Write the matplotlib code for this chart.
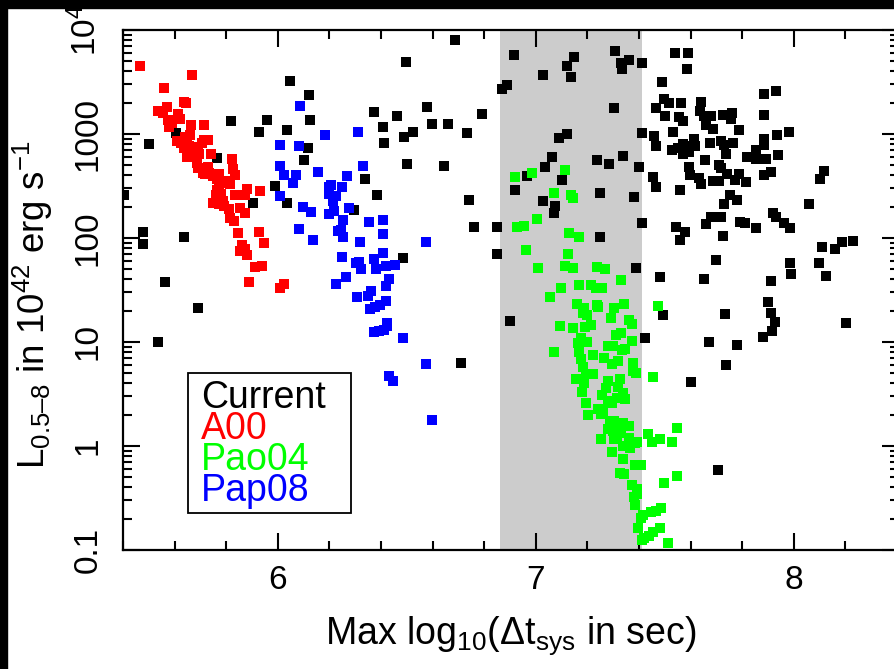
import numpy as np
import matplotlib
matplotlib.use("Agg")
import matplotlib.pyplot as plt
from matplotlib.patches import Rectangle
from matplotlib.ticker import MultipleLocator, LogLocator, NullFormatter

plt.rcParams['font.family'] = ['Liberation Sans', 'DejaVu Sans']
plt.rcParams['mathtext.fontset'] = 'custom'
plt.rcParams['mathtext.rm'] = 'Liberation Sans'
plt.rcParams['mathtext.it'] = 'Liberation Sans:italic'
plt.rcParams['mathtext.default'] = 'regular'

# x = max log10(dt_sys / s), y = log10(L_0.5-8 / 1e42 erg/s)
cur_x = [6.048, 6.121, 6.373, 5.819, 5.959, 6.125, 5.928, 6.036, 5.606, 6.407,
         5.501, 6.117, 6.411, 5.765, 6.102, 6.338, 5.990, 6.385, 5.403, 5.902,
         6.036, 6.296, 5.478, 5.478, 5.637, 5.563, 5.691, 5.536, 6.486, 6.497,
         6.687, 6.916, 7.148, 7.121, 7.307, 7.362, 7.331, 7.334, 7.413, 7.028,
         7.137, 6.889, 6.869, 6.579, 6.792, 6.462, 7.303, 6.598, 6.660, 6.524,
         6.490, 6.734, 7.121, 7.090, 7.413, 6.501, 6.645, 7.061, 7.036, 7.238,
         7.284, 7.338, 7.399, 6.966, 7.102, 6.920, 7.028, 7.075, 7.071, 7.249,
         7.382, 6.741, 6.761, 6.850, 7.413, 7.249, 6.850, 7.390, 7.540, 7.590,
         7.586, 7.490, 7.885, 7.931, 7.497, 7.517, 7.563, 7.641, 7.466, 7.501,
         7.555, 7.569, 7.637, 7.652, 7.679, 7.726, 7.761, 7.755, 7.885, 7.660,
         7.687, 7.788, 7.459, 7.532, 7.614, 7.466, 7.571, 7.590, 7.617, 7.552,
         7.526, 7.569, 7.594, 7.676, 7.717, 7.728, 7.765, 7.885, 7.885, 7.935,
         7.982, 7.738, 7.656, 7.819, 7.855, 7.854, 7.893, 7.939, 7.712, 7.716,
         7.594, 7.598, 7.633, 7.641, 7.455, 7.687, 7.710, 7.741, 7.786, 7.774,
         7.814, 7.885, 7.912, 8.116, 8.102, 7.466, 7.559, 7.753, 7.780, 7.730,
         8.058, 7.678, 7.660, 7.717, 7.792, 7.810, 7.854, 7.920, 7.931, 7.962,
         7.986, 7.544, 7.578, 7.559, 7.726, 8.110, 8.160, 8.187, 8.230, 7.699,
         7.986, 8.098, 7.990, 8.125, 7.482, 7.652, 7.912, 7.900, 7.493, 7.734,
         7.912, 7.928, 8.203, 7.916, 7.881, 7.424, 7.672, 7.780, 7.738, 7.602,
         7.707, 6.900, 6.710]
cur_logL = [3.510, 3.378, 3.214, 3.128, 3.137, 3.137, 3.022, 3.041, 3.010, 3.067,
            2.904, 2.868, 2.916, 2.772, 2.753, 2.570, 2.503, 2.416, 2.416, 2.339,
            2.337, 2.272, 2.061, 1.945, 2.013, 1.580, 1.330, 1.003, 1.811, 3.695,
            3.904, 3.763, 3.743, 3.657, 3.801, 3.714, 3.680, 3.628, 3.678, 3.570,
            3.551, 3.474, 3.436, 3.263, 3.195, 3.176, 3.253, 3.099, 3.099, 3.022,
            2.974, 3.013, 3.003, 2.964, 3.013, 2.714, 2.695, 2.782, 2.686, 2.753,
            2.714, 2.791, 2.686, 2.599, 2.561, 2.464, 2.359, 2.311, 2.243, 2.436,
            2.397, 2.368, 2.109, 2.109, 2.147, 2.013, 1.849, 1.714, 3.782, 3.782,
            3.628, 3.503, 3.382, 3.416, 3.339, 3.298, 3.301, 3.311, 3.253, 3.176,
            3.163, 3.125, 3.224, 3.173, 3.173, 3.186, 3.199, 3.144, 3.186, 3.089,
            3.051, 3.041, 2.981, 3.016, 2.955, 2.888, 2.901, 2.885, 2.885, 2.863,
            2.843, 2.805, 2.830, 2.916, 2.933, 2.894, 2.916, 2.949, 2.894, 2.990,
            3.022, 2.811, 2.753, 2.776, 2.843, 2.757, 2.763, 2.801, 2.702, 2.676,
            2.683, 2.603, 2.580, 2.519, 2.590, 2.548, 2.548, 2.618, 2.612, 2.555,
            2.541, 2.606, 2.638, 2.644, 2.570, 2.493, 2.464, 2.411, 2.365, 2.330,
            2.330, 2.205, 2.138, 2.205, 2.157, 2.147, 2.099, 2.243, 2.202, 2.147,
            2.099, 2.109, 2.061, 1.984, 2.022, 1.916, 1.897, 1.964, 1.974, 1.791,
            1.763, 1.763, 1.657, 1.635, 1.628, 1.609, 1.589, 1.385, 1.260, 1.269,
            1.279, 1.192, 1.183, 1.106, 1.048, 1.038, 1.000, 0.971, 0.779, 0.615,
            -0.231, 1.202, 0.798]

a00_x = [5.466, 5.668, 5.559, 5.571, 5.636, 5.646, 5.535, 5.554, 5.614, 5.576,
         5.619, 5.590, 5.580, 5.664, 5.714, 5.658, 5.641, 5.610, 5.625, 5.648,
         5.713, 5.729, 5.707, 5.638, 5.655, 5.690, 5.691, 5.648, 5.671, 5.694,
         5.741, 5.823, 5.686, 5.690, 5.729, 5.826, 5.709, 5.733, 5.716, 5.748,
         5.774, 5.765, 5.834, 5.787, 5.806, 5.815, 5.771, 5.765, 5.881, 5.931,
         5.834, 5.872, 5.761, 5.778, 5.761, 5.787, 5.748, 5.774, 5.793, 5.809,
         5.854, 5.873, 5.813, 5.832, 5.846, 5.928, 5.947, 5.862, 5.854, 5.872,
         5.880, 5.912, 5.939, 5.889, 6.024, 6.009]
a00_logL = [3.657, 3.570, 3.442, 3.260, 3.308, 3.298, 3.221, 3.199, 3.195, 3.135,
            3.144, 3.103, 3.070, 3.087, 3.087, 2.990, 2.971, 2.933, 2.916, 2.933,
            2.942, 2.942, 2.913, 2.868, 2.885, 2.875, 2.830, 2.782, 2.788, 2.805,
            2.811, 2.763, 2.724, 2.676, 2.686, 2.666, 2.628, 2.628, 2.612, 2.596,
            2.612, 2.564, 2.603, 2.532, 2.548, 2.516, 2.510, 2.462, 2.471, 2.452,
            2.417, 2.417, 2.413, 2.420, 2.356, 2.356, 2.337, 2.324, 2.308, 2.276,
            2.291, 2.243, 2.195, 2.163, 2.051, 2.061, 1.955, 1.930, 1.875, 1.891,
            1.837, 1.721, 1.731, 1.580, 1.561, 1.516]

pao_x = [6.920, 6.986, 7.114, 7.071, 7.136, 7.145, 7.005, 6.928, 6.955, 7.129,
         7.168, 6.962, 7.126, 7.009, 7.114, 7.145, 7.238, 7.269, 7.331, 7.098,
         7.168, 7.214, 7.234, 7.257, 7.055, 7.160, 7.187, 7.183, 7.199, 7.238,
         7.241, 7.303, 7.342, 7.475, 7.292, 7.362, 7.373, 7.094, 7.145, 7.191,
         7.214, 7.311, 7.331, 7.176, 7.164, 7.199, 7.168, 7.280, 7.300, 7.336,
         7.346, 7.373, 7.071, 7.222, 7.265, 7.176, 7.296, 7.319, 7.377, 7.377,
         7.389, 7.183, 7.222, 7.195, 7.156, 7.187, 7.455, 7.280, 7.327, 7.272,
         7.319, 7.179, 7.338, 7.346, 7.257, 7.280, 7.296, 7.315, 7.195, 7.203,
         7.241, 7.253, 7.261, 7.288, 7.303, 7.338, 7.362, 7.280, 7.300, 7.315,
         7.331, 7.548, 7.253, 7.303, 7.362, 7.385, 7.393, 7.435, 7.451, 7.482,
         7.528, 7.338, 7.366, 7.296, 7.338, 7.385, 7.408, 7.327, 7.342, 7.548,
         7.497, 7.373, 7.393, 7.393, 7.381, 7.385, 7.484, 7.466, 7.447, 7.416,
         7.408, 7.397, 7.482, 7.455, 7.439, 7.420, 7.412, 7.514]
pao_logL = [2.589, 2.628, 2.656, 2.436, 2.418, 2.388, 2.185, 2.109, 2.117, 2.051,
            2.013, 1.887, 1.849, 1.714, 1.734, 1.714, 1.724, 1.705, 1.599, 1.517,
            1.551, 1.551, 1.522, 1.517, 1.435, 1.368, 1.330, 1.282, 1.263, 1.356,
            1.339, 1.330, 1.368, 1.349, 1.234, 1.214, 1.176, 1.157, 1.138, 1.147,
            1.166, 1.070, 1.089, 1.041, 0.993, 1.003, 0.907, 0.964, 0.964, 0.926,
            0.936, 1.013, 0.906, 0.878, 0.849, 0.839, 0.791, 0.820, 0.801, 0.724,
            0.705, 0.763, 0.695, 0.692, 0.647, 0.609, 0.666, 0.628, 0.644, 0.561,
            0.570, 0.522, 0.513, 0.455, 0.493, 0.436, 0.411, 0.464, 0.416, 0.301,
            0.359, 0.311, 0.339, 0.243, 0.243, 0.224, 0.195, 0.166, 0.147, 0.089,
            0.122, 0.176, 0.070, 0.070, 0.080, 0.032, 0.041, 0.118, 0.041, 0.070,
            0.041, 0.003, -0.016, -0.055, -0.122, -0.180, -0.180, -0.257, -0.266, -0.286,
            -0.353, -0.372, -0.411, -0.459, -0.488, -0.564, -0.593, -0.622, -0.632, -0.661,
            -0.689, -0.786, -0.786, -0.824, -0.863, -0.882, -0.904, -0.930]

pap_x = [6.086, 6.009, 6.083, 6.183, 6.311, 6.009, 6.024, 6.071, 6.059, 6.156,
         6.331, 6.269, 6.009, 6.098, 6.129, 6.197, 6.207, 6.197, 6.226, 6.214,
         6.249, 6.197, 6.218, 6.276, 6.253, 6.354, 6.407, 6.083, 6.137, 6.234,
         6.245, 6.253, 6.319, 6.407, 6.249, 6.303, 6.313, 6.323, 6.373, 6.381,
         6.407, 6.420, 6.455, 6.430, 6.420, 6.575, 6.307, 6.350, 6.363, 6.420,
         6.395, 6.376, 6.358, 6.422, 6.422, 6.411, 6.391, 6.371, 6.486, 6.575,
         6.430, 6.447, 6.598, 6.226, 6.265]
pap_logL = [3.269, 2.897, 2.888, 2.990, 3.022, 2.692, 2.606, 2.606, 2.532, 2.638,
            2.692, 2.596, 2.407, 2.301, 2.253, 2.490, 2.510, 2.420, 2.407, 2.356,
            2.490, 2.234, 2.263, 2.288, 2.176, 2.154, 2.176, 2.089, 1.984, 2.070,
            2.080, 2.013, 1.964, 2.041, 1.820, 1.763, 1.772, 1.705, 1.801, 1.705,
            1.859, 1.731, 1.740, 1.603, 1.538, 1.964, 1.433, 1.445, 1.493, 1.394,
            1.351, 1.334, 1.314, 1.186, 1.154, 1.113, 1.106, 1.099, 1.038, 0.791,
            0.673, 0.625, 0.250, 1.561, 1.625]

band = (6.86, 7.41)
names = ['Current', 'A00', 'Pao04', 'Pap08']
colors = ['black', '#ff0000', '#00ff00', '#0000ff']
ytick_vals = [0.1, 1, 10, 100, 1000, 1e4]
ytick_labels = ['0.1', '1', '10', '100', '1000', '10$^4$']

fig = plt.figure(figsize=(8.95, 6.69), dpi=100)
fig.patch.set_facecolor('white')
ax = fig.add_axes([123/895, 1-550/669, 776/895, 520/669])

ax.axvspan(band[0], band[1], color='#cccccc', lw=0, zorder=0)
series = [(cur_x, cur_logL), (a00_x, a00_logL), (pao_x, pao_logL), (pap_x, pap_logL)]
for (xs, ls), c in zip(series, colors):
    ax.scatter(xs, 10**np.array(ls), s=42, marker='s', c=c, lw=0, zorder=2)

ax.set_yscale('log')
ax.set_xlim(5.4, 5.4 + 776/258)
ax.set_ylim(0.1, 1e4)
ax.set_xticks([6, 7, 8])
ax.set_xticklabels(['6', '7', '8'], fontsize=24)
ax.xaxis.set_minor_locator(MultipleLocator(0.2))
ax.set_yticks(ytick_vals)
ax.set_yticklabels(ytick_labels, fontsize=24, rotation=90, va='center')
ax.yaxis.set_minor_locator(LogLocator(base=10, subs=np.arange(2, 10)))
ax.yaxis.set_minor_formatter(NullFormatter())
ax.tick_params(which='both', direction='in', top=True, right=True, width=1.5)
ax.tick_params(which='major', length=12)
ax.tick_params(which='minor', length=6.5)
ax.tick_params(axis='x', pad=11)
ax.tick_params(axis='y', pad=14)
for sp in ax.spines.values():
    sp.set_linewidth(1.6)

ax.set_xlabel('Max log$_{10}$(Δt$_{sys}$ in sec)', fontsize=27, labelpad=13)
fig.text(33/895, 1-305/669, 'L$_{0.5\u20138}$ in 10$^{42}$ erg s$^{-1}$',
         rotation=90, ha='center', va='center', fontsize=26.5)

# legend box drawn by hand
ax.add_patch(Rectangle((188, 669-513), 163, 140, transform=None, fill=False,
                       ec='black', lw=1.3, zorder=5))
for i, (n, c) in enumerate(zip(names, colors)):
    fig.text(201/895, 1-(408+31*i)/669, n, color=c, fontsize=27,
             ha='left', va='baseline')

# black frame bits from the slide
fig.add_artist(Rectangle((0, 1-8/669), 1, 8/669, transform=fig.transFigure,
                         color='black', zorder=10))
fig.add_artist(Rectangle((0, 0), 7/895, 1, transform=fig.transFigure,
                         color='black', zorder=10))

fig.savefig('out.png', dpi=100, facecolor='white')
